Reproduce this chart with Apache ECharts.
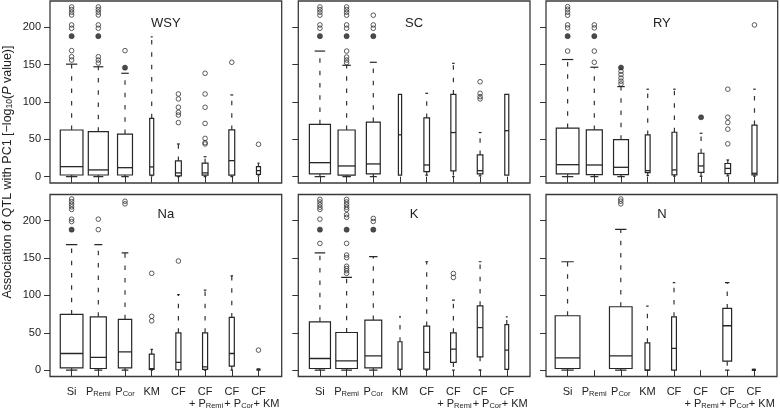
<!DOCTYPE html>
<html><head><meta charset="utf-8">
<script src="https://cdn.jsdelivr.net/npm/echarts@6/dist/echarts.min.js"></script>
<style>html,body{margin:0;padding:0;background:#fff}#c{width:780px;height:416px}</style>
</head><body><div id="c"></div><script>
const categories = ['Si','P_Remi','P_Cor','KM','CF','CF + P_Remi','CF + P_Cor','CF + KM'];
const panelNames = ['WSY','SC','RY','Na','K','N'];
const yTicks = [0, 50, 100, 150, 200];

// box stats per category: [lower whisker, Q1, median, Q3, upper whisker]
const statsWSY = [[0,2.2,13.4,62.4,150.5],[0,2.2,9,60.2,147],[0,2.2,12,57,138.3],[1,2,13,78,187],[0,1,5,21,43.7],[0,2,5,18,26.6],[0,2,21.4,62.5,109.3],[1,3,8,13.4,18]];
const statsSC  = [[0,3.6,18.7,70,168],[0,2,14.3,62.4,149],[0,3.6,17,73,153],[2,2,56,110,110],[2,6.7,15.6,78.5,111.5],[0,7.6,59,110,151.6],[1,3.6,8,29,59],[2,2,61.5,110,110]];
const statsRY  = [[0,3.6,16,65,156.7],[0,2.7,15.6,62.5,146.4],[0,2.7,12.5,49.5,120.5],[1.5,5.4,8,55.8,117],[0.5,2.3,9,59.4,117],[0.5,5.8,14.3,31.3,58],[1,4,11,17.6,22.3],[0.5,2.3,4.5,69,117]];
const statsNa  = [[0,3,22.3,74.5,168],[0,2.2,17,71.4,168],[0,3,24.5,68,157],[0,1,2,21.4,27.7],[0,0.5,10.3,50,101],[0,1,4.5,50,107],[0,5.4,22.3,70.5,126],[1.3,1.3,1.3,1.3,1.3]];
const statsK   = [[0,2.2,15.6,64.7,157],[0,2.2,12.5,50.4,124],[0,3,19,67,152],[0,1,1,38,71.4],[0,1.3,23.7,59,145],[0,10.3,28,50,93.6],[0,17.8,57,86,145],[1,1,26.8,61,71.3]];
const statsN   = [[0,2.2,16.5,72.8,145],null,[0,2.2,19,84.8,188.4],[0,0,0,36.6,85.7],[0,0,29,71.4,117],null,[0,12,59.4,82.6,117],[1,1,1,1,1]];

// outliers (open circles) per category
const outWSY = [[227,223.5,220,216.3,203,198.5,168.6,160.5,156],[227,223.5,220,216.3,203,198.5,160.5,156,152],[168.6],[],[110.6,104,92.8,86.1,82.5,72.3],[138.3,110.6,92.8,71.2,51.2,45.5,43.7],[153],[43.3]];
const outSC  = [[227,223.5,220,216,203,198.5],[227,223.5,220,216,203,198.5,168,160,156,152.5],[216,203,198.5],[],[],[],[127,111.5,107,104],[]];
const outRY  = [[227.5,224,220,216,203,199,168],[203,199,168,153],[141,136.6,132,127.7,124],[],[],[],[117,79.5,72.4,63.5,43.9],[203]];
const outNa  = [[229,225.5,222,218.5,215,202,198.7],[202,188],[226,222.5],[129.5,72,66],[146],[],[],[26.8]];
const outK   = [[228.5,225,221.5,218,215,202,169.6],[228.5,225,221.5,218,215,208,204.5,169.6,154,150.5,139,136,133,129.5],[203,199],[],[],[129.3,124],[],[]];
const outN   = [[],[],[229,226,222.5],[],[],[],[],[]];

// heavily over-plotted outliers (appear filled)
const denseWSY = [[188],[188],[145.8],[],[],[],[],[]];
const denseSC  = [[188],[188],[188],[],[],[],[],[]];
const denseRY  = [[188],[188],[146],[],[],[79.5],[],[]];
const denseNa  = [[188],[],[],[],[],[],[],[]];
const denseK   = [[188],[188],[188],[],[],[],[],[]];
const denseN   = [[],[],[],[],[],[],[],[]];

// relative box widths (varwidth), in category units
const widthWSY = [0.85,0.75,0.56,0.15,0.22,0.22,0.22,0.15];
const widthSC  = [0.79,0.64,0.52,0.12,0.21,0.19,0.21,0.15];
const widthRY  = [0.85,0.6,0.56,0.18,0.18,0.21,0.21,0.19];
const widthNa  = [0.85,0.6,0.5,0.18,0.19,0.19,0.19,0.11];
const widthK   = [0.79,0.81,0.63,0.15,0.22,0.21,0.21,0.14];
const widthN   = [0.93,0,0.85,0.18,0.18,0,0.33,0.11];

const allStats = [statsWSY, statsSC, statsRY, statsNa, statsK, statsN];
const allOut = [outWSY, outSC, outRY, outNa, outK, outN];
const allDense = [denseWSY, denseSC, denseRY, denseNa, denseK, denseN];
const allWidth = [widthWSY, widthSC, widthRY, widthNa, widthK, widthN];

const FONT = '"Liberation Sans", Arial, Helvetica, sans-serif';
const INK = '#222';
const colLeft = [50, 298.3, 546];
const rowTop = [1, 194.5];
const PW = 231.7, PH = 182;
const X_MIN = 0.19, X_MAX = 8.87;
const catIdx = categories.map((c, i) => i + 1);
const labelVals = catIdx.concat([X_MAX]); // trailing empty label keeps the last category label visible

function catLabel(value) {
  if (Math.abs(value - Math.round(value)) > 1e-6) return '';
  const i = Math.round(value) - 1;
  const c = categories[i];
  if (c === undefined) return '';
  const sub = s => s.replace(/P_(Remi|Cor)/g, '{m|P}{s|$1}');
  if (c.indexOf('CF + ') === 0) {
    const rest = c.slice(5);
    const lead = '{g' + (i + 1) + '|+ }';
    let body = sub(rest);
    if (body.indexOf('{') !== 0) body = '{m|' + body + '}';
    return '{m|CF}\n' + lead + body;
  }
  const b = sub(c);
  return b.indexOf('{') === 0 ? b : '{m|' + b + '}';
}

const grids = [], xAxes = [], yAxes = [], series = [], graphics = [];
for (let p = 0; p < 6; p++) {
  const row = Math.floor(p / 3), col = p % 3;
  grids.push({left: colLeft[col], top: rowTop[row], width: PW, height: PH,
    show: true, borderColor: '#3a3a3a', borderWidth: 1.3, backgroundColor: 'transparent'});
  xAxes.push({
    type: 'value', gridIndex: p, min: X_MIN, max: X_MAX,
    axisLine: {show: false}, splitLine: {show: false},
    axisTick: {show: true, length: 6, customValues: catIdx, lineStyle: {color: '#333', width: 1}},
    axisLabel: {show: row === 1, customValues: labelVals, margin: 9, formatter: catLabel,
      hideOverlap: false,
      color: INK, fontFamily: FONT, fontSize: 11, lineHeight: 12,
      rich: {
        m: {fontSize: 11, fontFamily: FONT, color: INK, lineHeight: 12},
        s: {fontSize: 7.5, fontFamily: FONT, color: INK, lineHeight: 12, verticalAlign: 'bottom', padding: [3, 0, 0, 0]},
        g6: {fontSize: 11, fontFamily: FONT, color: INK, lineHeight: 12, padding: [0, 0, 0, 2]},
        g7: {fontSize: 11, fontFamily: FONT, color: INK, lineHeight: 12, padding: [0, 0, 0, 14]},
        g8: {fontSize: 11, fontFamily: FONT, color: INK, lineHeight: 12, padding: [0, 0, 0, 16]}
      }}
  });
  yAxes.push({
    type: 'value', gridIndex: p, min: -8.5, max: 235,
    axisLine: {show: false}, splitLine: {show: false},
    axisTick: {show: true, length: 6, customValues: yTicks, lineStyle: {color: '#333', width: 1}},
    axisLabel: {show: col === 0, customValues: yTicks, margin: 9, color: INK, fontFamily: FONT, fontSize: 11,
      hideOverlap: false, showMinLabel: true, showMaxLabel: true}
  });

  const stats = allStats[p], widths = allWidth[p];
  const boxData = [];
  stats.forEach((s, i) => { if (s) boxData.push([i + 1].concat(s)); });
  series.push({
    type: 'custom', xAxisIndex: p, yAxisIndex: p, clip: true,
    encode: {x: 0, y: [1, 2, 3, 4, 5]},
    data: boxData,
    renderItem: function (params, api) {
      const x = api.value(0);
      const w = Math.max(api.size([widths[x - 1], 0])[0], 2);
      const pLow = api.coord([x, api.value(1)]);
      const pQ1 = api.coord([x, api.value(2)]);
      const pMed = api.coord([x, api.value(3)]);
      const pQ3 = api.coord([x, api.value(4)]);
      const pHigh = api.coord([x, api.value(5)]);
      const cx = pMed[0];
      const stroke = {stroke: '#262626', lineWidth: 1.2, fill: null};
      const dash = {stroke: '#333', lineWidth: 1.2, lineDash: [4.5, 7.8]};
      const ch = [];
      ch.push({type: 'rect', shape: {x: cx - w / 2, y: pQ3[1], width: w, height: Math.max(pQ1[1] - pQ3[1], 1)},
        style: {stroke: '#262626', lineWidth: 1.2, fill: 'transparent'}});
      ch.push({type: 'line', shape: {x1: cx - w / 2, y1: pMed[1], x2: cx + w / 2, y2: pMed[1]}, style: {stroke: '#262626', lineWidth: 1.3}});
      if (pHigh[1] < pQ3[1] - 0.5) {
        ch.push({type: 'line', shape: {x1: cx, y1: pQ3[1], x2: cx, y2: pHigh[1]}, style: dash});
        ch.push({type: 'line', shape: {x1: cx - w / 4, y1: pHigh[1], x2: cx + w / 4, y2: pHigh[1]}, style: stroke});
      }
      if (pLow[1] > pQ1[1] + 0.5) {
        ch.push({type: 'line', shape: {x1: cx, y1: pQ1[1], x2: cx, y2: pLow[1]}, style: dash});
        ch.push({type: 'line', shape: {x1: cx - w / 4, y1: pLow[1], x2: cx + w / 4, y2: pLow[1]}, style: stroke});
      }
      return {type: 'group', children: ch};
    }
  });

  const outPts = [], densePts = [];
  allOut[p].forEach((arr, i) => arr.forEach(v => outPts.push([i + 1, v])));
  allDense[p].forEach((arr, i) => arr.forEach(v => densePts.push([i + 1, v])));
  series.push({type: 'scatter', xAxisIndex: p, yAxisIndex: p, data: outPts, symbol: 'circle', symbolSize: 4.6,
    itemStyle: {color: 'rgba(255,255,255,0)', borderColor: '#333', borderWidth: 1}});
  series.push({type: 'scatter', xAxisIndex: p, yAxisIndex: p, data: densePts, symbol: 'circle', symbolSize: 5.2,
    itemStyle: {color: '#1e1e1e', borderColor: '#1e1e1e', borderWidth: 0.5}});

  graphics.push({type: 'text', x: colLeft[col] + PW / 2, y: rowTop[row] + (row === 0 ? 22 : 20),
    style: {text: panelNames[p], fill: INK, font: '13px ' + FONT, align: 'center', verticalAlign: 'middle'}});
}

graphics.push({type: 'text', x: 8, y: 172, rotation: Math.PI / 2,
  style: {
    text: '{n|Association of QTL with PC1 [\u2212log}{s|10}{n|(}{i|P}{n| value)]}',
    align: 'center', verticalAlign: 'middle', fill: INK,
    rich: {
      n: {fontSize: 12.5, fontFamily: FONT, fill: INK, lineHeight: 13},
      i: {fontSize: 12.5, fontFamily: FONT, fill: INK, fontStyle: 'italic', lineHeight: 13},
      s: {fontSize: 8.5, fontFamily: FONT, fill: INK, lineHeight: 13, verticalAlign: 'bottom', padding: [3, 0, 0, 0]}
    }
  }});

const chart = echarts.init(document.getElementById('c'), null, {renderer: 'canvas'});
chart.setOption({
  animation: false,
  backgroundColor: '#fff',
  grid: grids, xAxis: xAxes, yAxis: yAxes, series: series,
  graphic: graphics
});
</script></body></html>
